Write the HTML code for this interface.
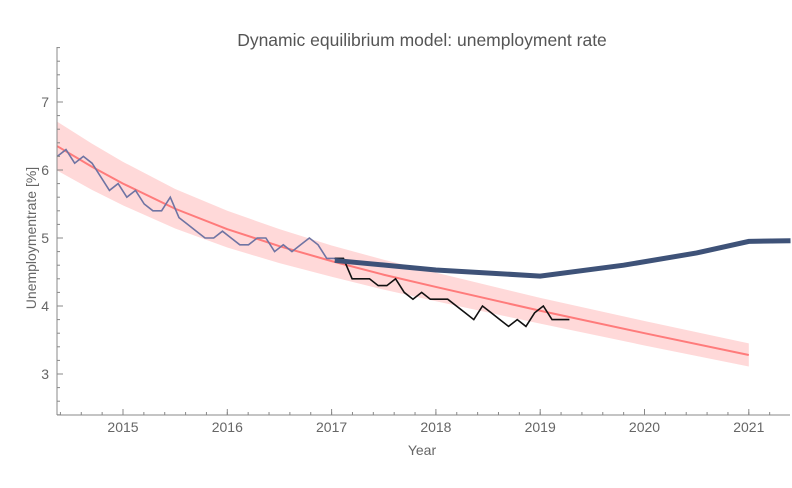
<!DOCTYPE html>
<html><head><meta charset="utf-8"><style>
body{margin:0;background:#fff;width:792px;height:483px;overflow:hidden}
svg{font-family:"Liberation Sans",sans-serif}
</style></head><body>
<svg id="c" width="792" height="483">
<text x="422" y="46" text-anchor="middle" font-size="17.5" fill="#555">Dynamic equilibrium model: unemployment rate</text>
<text x="422" y="455" text-anchor="middle" font-size="14" fill="#666">Year</text>
<text transform="translate(36,238) rotate(-90)" text-anchor="middle" font-size="14" fill="#666">Unemploymentrate [%]</text>
<g id="plot"></g>
</svg>
<script>
const xTicks=[2015,2016,2017,2018,2019,2020,2021];
const yTicks=[3,4,5,6,7];
const blueStart=2014.37;
const blueVals=[6.2,6.3,6.1,6.2,6.1,5.9,5.7,5.8,5.6,5.7,5.5,5.4,5.4,5.6,5.3,5.2,5.1,5.0,5.0,5.1,5.0,4.9,4.9,5.0,5.0,4.8,4.9,4.8,4.9,5.0,4.9,4.7,4.7,4.7];
const blackStart=2017.03;
const blackVals=[4.7,4.7,4.4,4.4,4.4,4.3,4.3,4.4,4.2,4.1,4.2,4.1,4.1,4.1,4.0,3.9,3.8,4.0,3.9,3.8,3.7,3.8,3.7,3.9,4.0,3.8,3.8,3.8];
const modelYears=[2017.03,2018,2019,2019.8,2020.5,2021,2021.4];
const modelVals=[4.67,4.53,4.44,4.6,4.78,4.95,4.96];
const fitYears=[2014.37,2014.7,2015,2015.5,2016,2016.5,2017,2017.5,2018,2019,2020,2021];
const fitVals=[6.35,6.05,5.8,5.43,5.13,4.88,4.66,4.46,4.28,3.93,3.6,3.28];
const fitBand=[0.36,0.34,0.32,0.29,0.27,0.25,0.23,0.22,0.21,0.19,0.18,0.17];
const X0=57,X1=790,Y0=47,Y1=415;
const xs=y=>123+(y-2015)*104.3;
const ys=v=>102+(7-v)*68;
const g=document.getElementById('plot');
const NS='http://www.w3.org/2000/svg';
function mk(t,a){const e=document.createElementNS(NS,t);for(const k in a)e.setAttribute(k,a[k]);g.appendChild(e);return e;}
let up=fitYears.map((y,i)=>xs(y)+','+ys(fitVals[i]+fitBand[i]));
let lo=fitYears.map((y,i)=>xs(y)+','+ys(fitVals[i]-fitBand[i])).reverse();
let band=mk('polygon',{points:up.concat(lo).join(' '),fill:'#ffd9d9'});


let fit=mk('polyline',{points:fitYears.map((y,i)=>xs(y)+','+ys(fitVals[i])).join(' '),fill:'none',stroke:'#ff7b7b','stroke-width':2});


let bl=mk('polyline',{points:blueVals.map((v,i)=>xs(blueStart+i/12)+','+ys(v)).join(' '),fill:'none',stroke:'#6f74a3','stroke-width':1.6});


let bk=mk('polyline',{points:blackVals.map((v,i)=>xs(blackStart+i/12)+','+ys(v)).join(' '),fill:'none',stroke:'#111','stroke-width':1.6});


let md=mk('polyline',{points:modelYears.map((y,i)=>xs(y)+','+ys(modelVals[i])).join(' '),fill:'none',stroke:'#3e5278','stroke-width':5});


let ax=mk('line',{x1:X0,y1:Y0,x2:X0,y2:Y1,stroke:'#888'});


let bx=mk('line',{x1:X0,y1:Y1,x2:X1,y2:Y1,stroke:'#888'});


for(let v=2.4;v<=7.81;v+=0.2){const y=ys(v);mk('line',{x1:X0,y1:y,x2:X0+3,y2:y,stroke:'#888'});}
yTicks.forEach(v=>{mk('line',{x1:X0,y1:ys(v),x2:X0+6,y2:ys(v),stroke:'#888'});
const t=mk('text',{x:X0-8,y:ys(v)+5,'text-anchor':'end','font-size':14,fill:'#666'});t.textContent=v;

});
for(let y=2014.4;y<2021.45;y+=0.2){const x=xs(y);if(x>=X0&&x<=X1)mk('line',{x1:x,y1:Y1,x2:x,y2:Y1-3,stroke:'#888'});}
xTicks.forEach(y=>{mk('line',{x1:xs(y),y1:Y1,x2:xs(y),y2:Y1-6,stroke:'#888'});
const t=mk('text',{x:xs(y),y:Y1+17,'text-anchor':'middle','font-size':14,fill:'#666'});t.textContent=y;

});
</script>
</body></html>
